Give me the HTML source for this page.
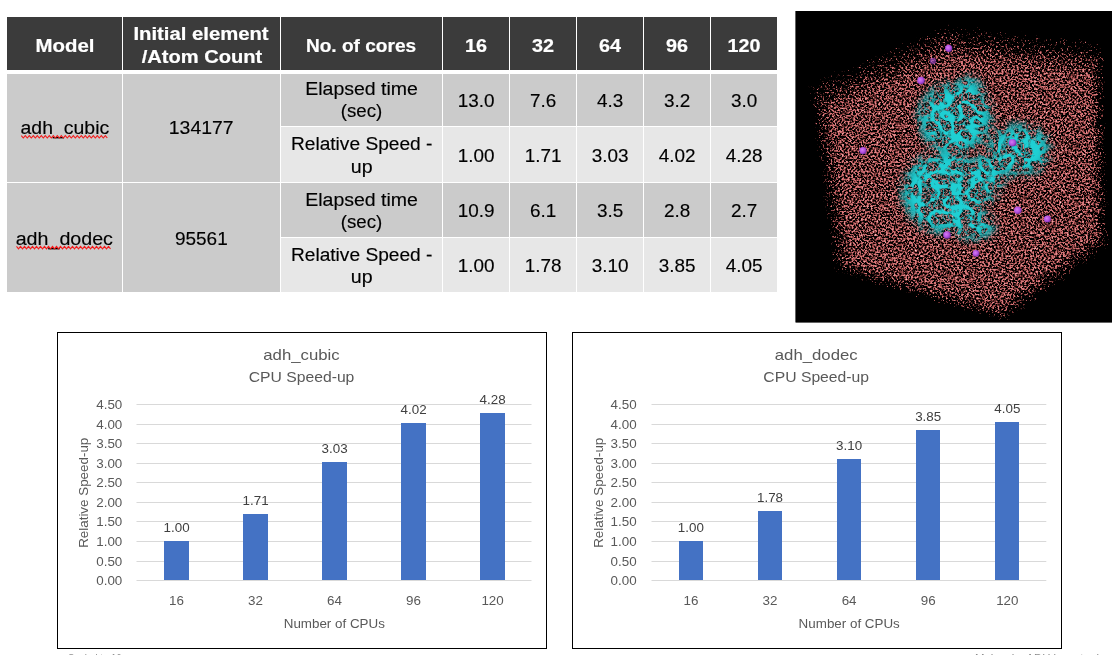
<!DOCTYPE html>
<html lang="en"><head><meta charset="utf-8"><title>ADH CPU Speed-up</title>
<style>
html,body{margin:0;padding:0;background:#fff;}
body{width:1120px;height:655px;position:relative;overflow:hidden;font-family:"Liberation Sans",sans-serif;}
table.t{position:absolute;left:6px;top:16px;border-collapse:separate;border-spacing:1px;table-layout:fixed;width:772px;font-size:17.5px;line-height:22.5px;color:#000;}
table.t th,table.t td{padding:0;text-align:center;vertical-align:middle;overflow:visible;white-space:nowrap;font-weight:normal;}
table.t th{background:#3b3b3b;color:#fff;font-weight:bold;font-size:18px;height:53px;border-bottom:3px solid #fff;}
tr.d td{background:#cbcbcb;}
tr.l td{background:#e7e7e7;}
.c{position:relative;top:1.4px;}
th .c{top:2.5px;}
.s{display:inline-block;transform-origin:50% 50%;-webkit-text-stroke:0.15px currentColor;}
th .s{-webkit-text-stroke:0.2px currentColor;}
.c.g0{top:0.3px;}
.c.e0{top:0.4px;}
.c.g1{top:2px;}
th .c{line-height:22.6px;}
svg.g{position:absolute;left:0;top:0;}
svg text{font-family:"Liberation Sans",sans-serif;}
.ax{font-size:12.2px;fill:#595959;}
.ti{font-size:13.8px;fill:#595959;}
.dl{fill:#404040;}
.ft{font-size:11px;fill:#8c8c8c;}
</style></head>
<body>
<table class="t"><colgroup><col style="width:115px"><col style="width:157px"><col style="width:161px"><col style="width:66px"><col style="width:66px"><col style="width:66px"><col style="width:66px"><col style="width:66px"></colgroup>
<thead><tr class="hd">
<th><div class="c"><span class="s " id="h_model" style="transform:scaleX(1.1330)">Model</span></div></th>
<th><div class="c"><span class="s " id="h_init1" style="transform:scaleX(1.1260)">Initial element</span><br><span class="s " id="h_init2" style="transform:scaleX(1.1170)">/Atom Count</span></div></th>
<th><div class="c"><span class="s " id="h_cores" style="transform:scaleX(1.0600)">No. of cores</span></div></th>
<th><div class="c"><span class="s " id="h_16" style="transform:scaleX(1.1000)">16</span></div></th>
<th><div class="c"><span class="s " id="h_32" style="transform:scaleX(1.1000)">32</span></div></th>
<th><div class="c"><span class="s " id="h_64" style="transform:scaleX(1.1000)">64</span></div></th>
<th><div class="c"><span class="s " id="h_96" style="transform:scaleX(1.1000)">96</span></div></th>
<th><div class="c"><span class="s " id="h_120" style="transform:scaleX(1.0950)">120</span></div></th>
</tr></thead><tbody>
<tr class="d r1" style="height:52px">
<td rowspan="2"><div class="c g0"><span class="s " id="m0" style="transform:scaleX(1.1117)">adh_cubic</span></div></td>
<td rowspan="2"><div class="c g0"><span class="s " id="n0" style="transform:scaleX(1.1098)">134177</span></div></td>
<td><div class="c e0"><span class="s " id="e0a" style="transform:scaleX(1.1148)">Elapsed time</span><br><span class="s " id="e0b" style="transform:scaleX(1.0652)">(sec)</span></div></td>
<td><div class="c"><span class="s " id="el0_0" style="transform:scaleX(1.0801)">13.0</span></div></td>
<td><div class="c"><span class="s " id="el0_1" style="transform:scaleX(1.0801)">7.6</span></div></td>
<td><div class="c"><span class="s " id="el0_2" style="transform:scaleX(1.0801)">4.3</span></div></td>
<td><div class="c"><span class="s " id="el0_3" style="transform:scaleX(1.0801)">3.2</span></div></td>
<td><div class="c"><span class="s " id="el0_4" style="transform:scaleX(1.0801)">3.0</span></div></td>
</tr>
<tr class="l r2" style="height:55px">
<td><div class="c"><span class="s " id="r0a" style="transform:scaleX(1.0939)">Relative Speed -</span><br><span class="s " id="r0b" style="transform:scaleX(1.1197)">up</span></div></td>
<td><div class="c"><span class="s " id="rs0_0" style="transform:scaleX(1.0801)">1.00</span></div></td>
<td><div class="c"><span class="s " id="rs0_1" style="transform:scaleX(1.0801)">1.71</span></div></td>
<td><div class="c"><span class="s " id="rs0_2" style="transform:scaleX(1.0801)">3.03</span></div></td>
<td><div class="c"><span class="s " id="rs0_3" style="transform:scaleX(1.0801)">4.02</span></div></td>
<td><div class="c"><span class="s " id="rs0_4" style="transform:scaleX(1.0801)">4.28</span></div></td>
</tr>
<tr class="d r3" style="height:54px">
<td rowspan="2"><div class="c g1"><span class="s " id="m1" style="transform:scaleX(1.1228)">adh_dodec</span></div></td>
<td rowspan="2"><div class="c g1"><span class="s " id="n1" style="transform:scaleX(1.0850)">95561</span></div></td>
<td><div class="c e1"><span class="s " id="e1a" style="transform:scaleX(1.1148)">Elapsed time</span><br><span class="s " id="e1b" style="transform:scaleX(1.0652)">(sec)</span></div></td>
<td><div class="c"><span class="s " id="el1_0" style="transform:scaleX(1.0801)">10.9</span></div></td>
<td><div class="c"><span class="s " id="el1_1" style="transform:scaleX(1.0801)">6.1</span></div></td>
<td><div class="c"><span class="s " id="el1_2" style="transform:scaleX(1.0801)">3.5</span></div></td>
<td><div class="c"><span class="s " id="el1_3" style="transform:scaleX(1.0801)">2.8</span></div></td>
<td><div class="c"><span class="s " id="el1_4" style="transform:scaleX(1.0801)">2.7</span></div></td>
</tr>
<tr class="l r4" style="height:54px">
<td><div class="c"><span class="s " id="r1a" style="transform:scaleX(1.0939)">Relative Speed -</span><br><span class="s " id="r1b" style="transform:scaleX(1.1197)">up</span></div></td>
<td><div class="c"><span class="s " id="rs1_0" style="transform:scaleX(1.0801)">1.00</span></div></td>
<td><div class="c"><span class="s " id="rs1_1" style="transform:scaleX(1.0801)">1.78</span></div></td>
<td><div class="c"><span class="s " id="rs1_2" style="transform:scaleX(1.0801)">3.10</span></div></td>
<td><div class="c"><span class="s " id="rs1_3" style="transform:scaleX(1.0801)">3.85</span></div></td>
<td><div class="c"><span class="s " id="rs1_4" style="transform:scaleX(1.0801)">4.05</span></div></td>
</tr>
</tbody></table>
<svg class="g" width="1120" height="655" viewBox="0 0 1120 655">
<defs>
<clipPath id="mclip"><rect x="795.5" y="11" width="316.5" height="311.5"/></clipPath>
<filter id="wat" filterUnits="userSpaceOnUse" x="795.5" y="11" width="316.5" height="311.5" color-interpolation-filters="sRGB">
 <feTurbulence type="fractalNoise" baseFrequency="0.52" numOctaves="2" seed="7" result="n0"/>
 <feColorMatrix in="n0" type="matrix" values="1 0 0 0 0  1 0 0 0 0  1 0 0 0 0  0 0 0 0 1" result="n"/>
 <feGaussianBlur in="SourceGraphic" stdDeviation="2.5" result="d"/>
 <feComposite in="n" in2="d" operator="arithmetic" k1="0" k2="1" k3="0.62" k4="-0.655" result="s"/>
 <feComponentTransfer in="s">
  <feFuncR type="table" tableValues="0 0 0 0 0 0.5 0.84 0.9 0.95 1 1"/>
  <feFuncG type="table" tableValues="0 0 0 0 0 0.22 0.45 0.52 0.7 0.9 1"/>
  <feFuncB type="table" tableValues="0 0 0 0 0 0.22 0.46 0.53 0.7 0.9 1"/>
 </feComponentTransfer>
</filter>
<filter id="pro" filterUnits="userSpaceOnUse" x="795.5" y="11" width="316.5" height="311.5" color-interpolation-filters="sRGB">
 <feTurbulence type="turbulence" baseFrequency="0.075" numOctaves="2" seed="11" result="t0"/>
 <feColorMatrix in="t0" type="matrix" values="0 0 0 0 1  0 0 0 0 1  0 0 0 0 1  -8 0 0 0 2.25" result="t"/>
 <feGaussianBlur in="SourceGraphic" stdDeviation="5" result="d"/>
 <feComposite in="d" in2="t" operator="arithmetic" k1="1.1" k2="0" k3="0" k4="0" result="m"/>
</filter>
<filter id="pro2" filterUnits="userSpaceOnUse" x="795.5" y="11" width="316.5" height="311.5" color-interpolation-filters="sRGB">
 <feTurbulence type="turbulence" baseFrequency="0.16" numOctaves="2" seed="23" result="t0"/>
 <feColorMatrix in="t0" type="matrix" values="0 0 0 0 1  0 0 0 0 1  0 0 0 0 1  -10 0 0 0 2.0" result="t"/>
 <feGaussianBlur in="SourceGraphic" stdDeviation="5" result="d"/>
 <feComposite in="d" in2="t" operator="arithmetic" k1="1.1" k2="0" k3="0" k4="0" result="m"/>
</filter>
<filter id="soft" filterUnits="userSpaceOnUse" x="795.5" y="11" width="316.5" height="311.5"><feGaussianBlur stdDeviation="5"/></filter>
<radialGradient id="ion" cx="0.4" cy="0.4" r="0.6"><stop offset="0" stop-color="#d67cf5"/><stop offset="0.6" stop-color="#b24fe0"/><stop offset="1" stop-color="#7a2fa8"/></radialGradient>
</defs>
<g clip-path="url(#mclip)">
<rect x="795.5" y="11" width="316.5" height="311.5" fill="#000"/>
<g filter="url(#wat)"><rect x="765.5" y="-19" width="376.5" height="371.5" fill="#000"/><polygon points="946.0,22.0 1106.0,40.0 1111.0,249.0 1006.0,325.0 832.0,274.0 805.0,82.0" fill="#fff" fill-opacity="0.57"/><polygon points="946.5,25.5 1104.6,43.3 1109.5,247.6 1005.1,323.2 833.9,273.0 807.4,84.7" fill="#fff" fill-opacity="0.14"/><polygon points="947.0,29.0 1103.2,46.5 1107.9,246.3 1004.2,321.4 835.8,272.0 809.8,87.4" fill="#fff" fill-opacity="0.162"/><polygon points="947.6,33.1 1101.4,50.4 1106.1,244.7 1003.1,319.2 838.0,270.8 812.7,90.6" fill="#fff" fill-opacity="0.194"/><polygon points="948.3,37.7 1099.6,54.7 1104.1,242.9 1002.0,316.8 840.4,269.4 815.8,94.0" fill="#fff" fill-opacity="0.24"/><polygon points="949.1,42.9 1097.5,59.6 1101.8,240.8 1000.7,314.1 843.3,267.9 819.4,98.1" fill="#fff" fill-opacity="0.316"/><polygon points="950.0,49.1 1094.9,65.4 1099.0,238.4 999.1,310.8 846.6,266.1 823.7,102.9" fill="#fff" fill-opacity="0.462"/><polygon points="951.1,56.8 1091.8,72.6 1095.7,235.4 997.1,306.8 850.8,263.9 829.0,108.8" fill="#fff" fill-opacity="1.0"/></g>
<g filter="url(#soft)" opacity="0.18"><ellipse cx="955" cy="118" rx="36" ry="34" fill="#16a0a4"/><ellipse cx="968" cy="92" rx="13" ry="14" fill="#16a0a4"/><ellipse cx="1019" cy="150" rx="30" ry="25" fill="#16a0a4"/><ellipse cx="945" cy="192" rx="42" ry="40" fill="#16a0a4"/><ellipse cx="985" cy="178" rx="18" ry="22" fill="#16a0a4"/><ellipse cx="972" cy="226" rx="22" ry="12" fill="#16a0a4"/></g>
<g filter="url(#pro2)" opacity="0.8"><ellipse cx="955" cy="118" rx="36" ry="34" fill="#16a0a4"/><ellipse cx="968" cy="92" rx="13" ry="14" fill="#16a0a4"/><ellipse cx="1019" cy="150" rx="30" ry="25" fill="#16a0a4"/><ellipse cx="945" cy="192" rx="42" ry="40" fill="#16a0a4"/><ellipse cx="985" cy="178" rx="18" ry="22" fill="#16a0a4"/><ellipse cx="972" cy="226" rx="22" ry="12" fill="#16a0a4"/></g>
<g filter="url(#pro)"><ellipse cx="955" cy="118" rx="36" ry="34" fill="#1cbcc0"/><ellipse cx="968" cy="92" rx="13" ry="14" fill="#1cbcc0"/><ellipse cx="1019" cy="150" rx="30" ry="25" fill="#1cbcc0"/><ellipse cx="945" cy="192" rx="42" ry="40" fill="#1cbcc0"/><ellipse cx="985" cy="178" rx="18" ry="22" fill="#1cbcc0"/><ellipse cx="972" cy="226" rx="22" ry="12" fill="#1cbcc0"/></g>
<circle cx="948.7" cy="48.3" r="3.6" fill="url(#ion)" opacity="1"/>
<circle cx="933" cy="61" r="3.2" fill="url(#ion)" opacity="0.6"/>
<circle cx="921" cy="80.5" r="3.8" fill="url(#ion)" opacity="1"/>
<circle cx="863" cy="150.6" r="3.6" fill="url(#ion)" opacity="1"/>
<circle cx="1012.6" cy="142.8" r="3.8" fill="url(#ion)" opacity="1"/>
<circle cx="1017.8" cy="210.3" r="3.8" fill="url(#ion)" opacity="1"/>
<circle cx="1047.4" cy="219" r="3.6" fill="url(#ion)" opacity="1"/>
<circle cx="947" cy="235" r="3.8" fill="url(#ion)" opacity="1"/>
<circle cx="976" cy="253.4" r="3.4" fill="url(#ion)" opacity="1"/>
</g>
<polyline points="21.3,135.6 23.3,138.0 25.3,135.6 27.3,138.0 29.3,135.6 31.3,138.0 33.3,135.6 35.3,138.0 37.3,135.6 39.3,138.0 41.3,135.6 43.3,138.0 45.3,135.6 47.3,138.0 49.3,135.6 51.3,138.0 53.3,135.6 55.3,138.0 57.3,135.6 59.3,138.0 61.3,135.6 63.3,138.0 65.3,135.6 67.3,138.0 69.3,135.6 71.3,138.0 73.3,135.6 75.3,138.0 77.3,135.6 79.3,138.0 81.3,135.6 83.3,138.0 85.3,135.6 87.3,138.0 89.3,135.6 91.3,138.0 93.3,135.6 95.3,138.0 97.3,135.6 99.3,138.0 101.3,135.6 103.3,138.0 105.3,135.6 107.3,138.0" fill="none" stroke="#f41a1a" stroke-width="1.1"/>
<polyline points="16.5,246.4 18.5,248.8 20.5,246.4 22.5,248.8 24.5,246.4 26.5,248.8 28.5,246.4 30.5,248.8 32.5,246.4 34.5,248.8 36.5,246.4 38.5,248.8 40.5,246.4 42.5,248.8 44.5,246.4 46.5,248.8 48.5,246.4 50.5,248.8 52.5,246.4 54.5,248.8 56.5,246.4 58.5,248.8 60.5,246.4 62.5,248.8 64.5,246.4 66.5,248.8 68.5,246.4 70.5,248.8 72.5,246.4 74.5,248.8 76.5,246.4 78.5,248.8 80.5,246.4 82.5,248.8 84.5,246.4 86.5,248.8 88.5,246.4 90.5,248.8 92.5,246.4 94.5,248.8 96.5,246.4 98.5,248.8 100.5,246.4 102.5,248.8 104.5,246.4 106.5,248.8 108.5,246.4 110.5,248.8" fill="none" stroke="#f41a1a" stroke-width="1.1"/>
<text class="ft" x="68" y="661.5" textLength="80" lengthAdjust="spacingAndGlyphs">Scaled to 16 cores</text>
<text class="ft" x="975" y="661.5" textLength="140" lengthAdjust="spacingAndGlyphs">Molecule: ADH in water box</text>
<g>
<rect x="57.5" y="332.5" width="489" height="316" fill="#fff" stroke="#000" stroke-width="1"/>
<line x1="136.5" x2="531.5" y1="580.5" y2="580.5" stroke="#d9d9d9" stroke-width="1"/>
<line x1="136.5" x2="531.5" y1="561.5" y2="561.5" stroke="#d9d9d9" stroke-width="1"/>
<line x1="136.5" x2="531.5" y1="541.5" y2="541.5" stroke="#d9d9d9" stroke-width="1"/>
<line x1="136.5" x2="531.5" y1="521.5" y2="521.5" stroke="#d9d9d9" stroke-width="1"/>
<line x1="136.5" x2="531.5" y1="502.5" y2="502.5" stroke="#d9d9d9" stroke-width="1"/>
<line x1="136.5" x2="531.5" y1="482.5" y2="482.5" stroke="#d9d9d9" stroke-width="1"/>
<line x1="136.5" x2="531.5" y1="463.5" y2="463.5" stroke="#d9d9d9" stroke-width="1"/>
<line x1="136.5" x2="531.5" y1="443.5" y2="443.5" stroke="#d9d9d9" stroke-width="1"/>
<line x1="136.5" x2="531.5" y1="424.5" y2="424.5" stroke="#d9d9d9" stroke-width="1"/>
<line x1="136.5" x2="531.5" y1="404.5" y2="404.5" stroke="#d9d9d9" stroke-width="1"/>
<text class="ax" transform="translate(122.30,584.90) scale(1.099,1)" text-anchor="end">0.00</text>
<text class="ax" transform="translate(122.30,565.90) scale(1.099,1)" text-anchor="end">0.50</text>
<text class="ax" transform="translate(122.30,545.90) scale(1.099,1)" text-anchor="end">1.00</text>
<text class="ax" transform="translate(122.30,525.90) scale(1.099,1)" text-anchor="end">1.50</text>
<text class="ax" transform="translate(122.30,506.90) scale(1.099,1)" text-anchor="end">2.00</text>
<text class="ax" transform="translate(122.30,486.90) scale(1.099,1)" text-anchor="end">2.50</text>
<text class="ax" transform="translate(122.30,467.90) scale(1.099,1)" text-anchor="end">3.00</text>
<text class="ax" transform="translate(122.30,447.90) scale(1.099,1)" text-anchor="end">3.50</text>
<text class="ax" transform="translate(122.30,428.90) scale(1.099,1)" text-anchor="end">4.00</text>
<text class="ax" transform="translate(122.30,408.90) scale(1.099,1)" text-anchor="end">4.50</text>
<rect x="164" y="541" width="25" height="39" fill="#4472c4"/>
<text class="ax dl" transform="translate(176.55,531.80) scale(1.099,1)" text-anchor="middle">1.00</text>
<text class="ax" transform="translate(176.55,605.30) scale(1.099,1)" text-anchor="middle">16</text>
<rect x="243" y="514" width="25" height="66" fill="#4472c4"/>
<text class="ax dl" transform="translate(255.55,504.80) scale(1.099,1)" text-anchor="middle">1.71</text>
<text class="ax" transform="translate(255.55,605.30) scale(1.099,1)" text-anchor="middle">32</text>
<rect x="322" y="462" width="25" height="118" fill="#4472c4"/>
<text class="ax dl" transform="translate(334.55,452.80) scale(1.099,1)" text-anchor="middle">3.03</text>
<text class="ax" transform="translate(334.55,605.30) scale(1.099,1)" text-anchor="middle">64</text>
<rect x="401" y="423" width="25" height="157" fill="#4472c4"/>
<text class="ax dl" transform="translate(413.55,413.80) scale(1.099,1)" text-anchor="middle">4.02</text>
<text class="ax" transform="translate(413.55,605.30) scale(1.099,1)" text-anchor="middle">96</text>
<rect x="480" y="413" width="25" height="167" fill="#4472c4"/>
<text class="ax dl" transform="translate(492.55,403.80) scale(1.099,1)" text-anchor="middle">4.28</text>
<text class="ax" transform="translate(492.55,605.30) scale(1.099,1)" text-anchor="middle">120</text>
<text class="ax" transform="translate(334.30,627.80) scale(1.099,1)" text-anchor="middle">Number of CPUs</text>
<text class="ax" transform="translate(88.00,492.80) rotate(-90) scale(1.099,1)" text-anchor="middle">Relative Speed-up</text>
<text class="ti" transform="translate(301.50,359.80) scale(1.215,1)" text-anchor="middle">adh_cubic</text>
<text class="ti" transform="translate(301.50,381.80) scale(1.14,1)" text-anchor="middle">CPU Speed-up</text>
</g>
<g>
<rect x="572.5" y="332.5" width="489" height="316" fill="#fff" stroke="#000" stroke-width="1"/>
<line x1="651.5" x2="1046.3" y1="580.5" y2="580.5" stroke="#d9d9d9" stroke-width="1"/>
<line x1="651.5" x2="1046.3" y1="561.5" y2="561.5" stroke="#d9d9d9" stroke-width="1"/>
<line x1="651.5" x2="1046.3" y1="541.5" y2="541.5" stroke="#d9d9d9" stroke-width="1"/>
<line x1="651.5" x2="1046.3" y1="521.5" y2="521.5" stroke="#d9d9d9" stroke-width="1"/>
<line x1="651.5" x2="1046.3" y1="502.5" y2="502.5" stroke="#d9d9d9" stroke-width="1"/>
<line x1="651.5" x2="1046.3" y1="482.5" y2="482.5" stroke="#d9d9d9" stroke-width="1"/>
<line x1="651.5" x2="1046.3" y1="463.5" y2="463.5" stroke="#d9d9d9" stroke-width="1"/>
<line x1="651.5" x2="1046.3" y1="443.5" y2="443.5" stroke="#d9d9d9" stroke-width="1"/>
<line x1="651.5" x2="1046.3" y1="424.5" y2="424.5" stroke="#d9d9d9" stroke-width="1"/>
<line x1="651.5" x2="1046.3" y1="404.5" y2="404.5" stroke="#d9d9d9" stroke-width="1"/>
<text class="ax" transform="translate(636.60,584.90) scale(1.099,1)" text-anchor="end">0.00</text>
<text class="ax" transform="translate(636.60,565.90) scale(1.099,1)" text-anchor="end">0.50</text>
<text class="ax" transform="translate(636.60,545.90) scale(1.099,1)" text-anchor="end">1.00</text>
<text class="ax" transform="translate(636.60,525.90) scale(1.099,1)" text-anchor="end">1.50</text>
<text class="ax" transform="translate(636.60,506.90) scale(1.099,1)" text-anchor="end">2.00</text>
<text class="ax" transform="translate(636.60,486.90) scale(1.099,1)" text-anchor="end">2.50</text>
<text class="ax" transform="translate(636.60,467.90) scale(1.099,1)" text-anchor="end">3.00</text>
<text class="ax" transform="translate(636.60,447.90) scale(1.099,1)" text-anchor="end">3.50</text>
<text class="ax" transform="translate(636.60,428.90) scale(1.099,1)" text-anchor="end">4.00</text>
<text class="ax" transform="translate(636.60,408.90) scale(1.099,1)" text-anchor="end">4.50</text>
<rect x="679" y="541" width="24" height="39" fill="#4472c4"/>
<text class="ax dl" transform="translate(690.90,531.80) scale(1.099,1)" text-anchor="middle">1.00</text>
<text class="ax" transform="translate(690.90,605.30) scale(1.099,1)" text-anchor="middle">16</text>
<rect x="758" y="511" width="24" height="69" fill="#4472c4"/>
<text class="ax dl" transform="translate(770.00,501.80) scale(1.099,1)" text-anchor="middle">1.78</text>
<text class="ax" transform="translate(770.00,605.30) scale(1.099,1)" text-anchor="middle">32</text>
<rect x="837" y="459" width="24" height="121" fill="#4472c4"/>
<text class="ax dl" transform="translate(849.10,449.80) scale(1.099,1)" text-anchor="middle">3.10</text>
<text class="ax" transform="translate(849.10,605.30) scale(1.099,1)" text-anchor="middle">64</text>
<rect x="916" y="430" width="24" height="150" fill="#4472c4"/>
<text class="ax dl" transform="translate(928.20,420.80) scale(1.099,1)" text-anchor="middle">3.85</text>
<text class="ax" transform="translate(928.20,605.30) scale(1.099,1)" text-anchor="middle">96</text>
<rect x="995" y="422" width="24" height="158" fill="#4472c4"/>
<text class="ax dl" transform="translate(1007.30,412.80) scale(1.099,1)" text-anchor="middle">4.05</text>
<text class="ax" transform="translate(1007.30,605.30) scale(1.099,1)" text-anchor="middle">120</text>
<text class="ax" transform="translate(849.20,627.80) scale(1.099,1)" text-anchor="middle">Number of CPUs</text>
<text class="ax" transform="translate(603.00,492.80) rotate(-90) scale(1.099,1)" text-anchor="middle">Relative Speed-up</text>
<text class="ti" transform="translate(816.20,359.80) scale(1.215,1)" text-anchor="middle">adh_dodec</text>
<text class="ti" transform="translate(816.20,381.80) scale(1.14,1)" text-anchor="middle">CPU Speed-up</text>
</g>
</svg>
</body></html>
